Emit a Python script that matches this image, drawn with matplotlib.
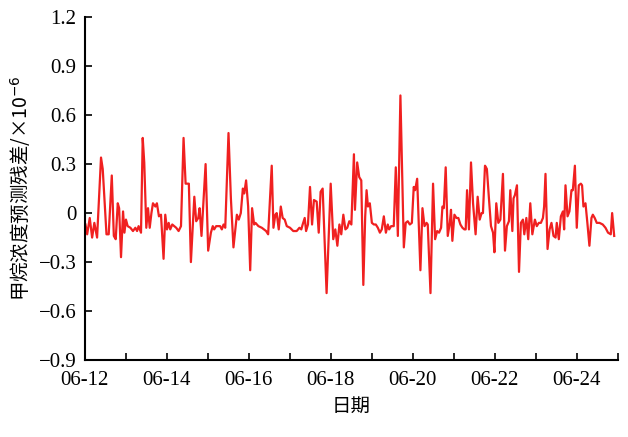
import numpy as np
import pandas as pd
import matplotlib
matplotlib.use("Agg")
import matplotlib.pyplot as plt
import matplotlib.dates as mdates

# 时间(小时, 自06-12 00:00起) 与 预测残差
hours = [0.4, 1.4, 2.9, 4.3, 5.6, 7.2, 9.5, 10.5, 12.7, 14.0, 15.8, 17.0, 18.1, 19.3, 20.1, 21.2,
         22.4, 23.2, 24.1, 25.1, 26.7, 28.2, 29.6, 30.6, 31.5, 32.9, 33.9, 34.8, 36.0, 37.0, 38.0,
         39.0, 39.9, 41.3, 42.2, 43.4, 44.6, 46.1, 47.1, 48.1, 49.1, 50.0, 51.2,
         53.5, 54.9, 56.3, 57.8, 59.0, 60.9, 62.1, 64.1, 65.2, 66.4, 67.2, 68.3, 70.7, 72.2, 73.8,
         74.9, 75.7, 76.9, 78.3, 79.2, 80.2, 81.2, 82.2, 84.1, 85.5, 87.0, 89.0, 90.1, 91.3, 92.5,
         93.3, 94.4, 95.6, 96.8, 97.9, 99.1, 99.9, 101.6, 103.6,
         106.1, 107.3, 109.4, 110.4, 111.5, 112.3, 113.5, 114.7, 115.8, 117.0, 118.2, 120.1, 122.0,
         124.0, 125.6, 126.7, 127.5, 128.7, 129.5, 130.6, 131.8, 133.0, 134.1, 135.7, 136.9, 138.0,
         139.2, 141.5, 143.9, 145.4, 146.6, 147.8, 149.0, 150.1, 151.3, 152.5, 153.6, 154.8, 156.0,
         157.5,
         158.1, 159.4, 160.6, 161.8, 163.0, 164.1, 164.9, 165.7, 166.8, 168.0, 169.2, 170.3, 171.5,
         172.7, 173.8, 175.0, 176.2, 177.3, 178.1, 179.3, 180.8, 182.0, 183.2, 184.7, 185.9, 186.7,
         187.8, 189.0, 190.2, 191.4, 192.5, 193.3, 194.5, 196.4, 197.6, 198.8, 200.0, 200.7, 202.3,
         203.8, 205.0, 206.2, 207.3, 208.5, 209.3, 210.1,
         211.2, 212.4, 213.6, 214.3, 215.1, 216.3, 217.5, 218.6, 219.8, 221.0, 222.1, 222.9, 223.7,
         224.8, 226.0, 227.2, 228.7, 229.9, 231.1, 232.2, 233.0, 234.2, 235.3, 236.5, 237.7, 238.9,
         239.7, 240.8, 242.0, 243.2, 244.7, 245.9, 247.0, 248.2, 249.0, 250.2, 250.9, 251.7, 252.9,
         254.1, 255.2, 256.4, 257.2, 258.4, 259.5, 260.7, 261.9,
         263.4, 264.5, 265.7, 266.9, 268.1, 268.8, 269.6, 270.8, 272.0, 273.1, 274.3, 275.5, 276.2,
         277.4, 278.6, 279.8, 280.5, 281.3, 282.5, 283.6, 284.8, 285.6, 286.8, 287.9, 289.1, 290.3,
         291.0, 291.8, 293.0, 294.1, 295.3, 296.5, 297.3, 298.4, 299.6, 301.2, 303.1, 304.7, 306.2,
         307.8, 308.6, 309.8]

resid = [-0.07, -0.13, -0.03, -0.15, -0.06, -0.15, 0.34, 0.27, -0.13, -0.13, 0.23, -0.14, -0.16, 0.06, 0.03, -0.27,
         0.01, -0.12, -0.04, -0.08, -0.09, -0.11, -0.09, -0.11, -0.08, -0.12, 0.46, 0.31, -0.09, 0.03, -0.09,
         0.00, 0.06, 0.04, 0.06, -0.02, -0.01, -0.28, -0.01, -0.10, -0.06, -0.10, -0.07,
         -0.09, -0.11, -0.08, 0.46, 0.18, 0.18, -0.30, 0.10, -0.05, -0.03, 0.03, -0.14, 0.30, -0.23, -0.12,
         -0.08, -0.10, -0.08, -0.08, -0.08, -0.10, -0.07, -0.09, 0.49, 0.09, -0.21, -0.01, -0.04, 0.00, 0.15,
         0.12, 0.20, 0.04, -0.35, 0.03, -0.07, -0.06, -0.08, -0.09,
         -0.11, -0.13, 0.29, -0.09, -0.01, 0.00, -0.10, 0.04, -0.03, -0.04, -0.08, -0.09, -0.11,
         -0.11, -0.09, -0.10, -0.07, -0.03, -0.11, -0.07, 0.16, -0.07, 0.08, 0.07, -0.12, 0.13,
         0.15, -0.49, 0.18, -0.16, -0.10, -0.20, -0.07, -0.13, -0.01, -0.10, -0.09, -0.05, -0.07,
         0.36,
         0.02, 0.31, 0.22, 0.20, -0.44, -0.02, 0.14, 0.04, 0.06, -0.06, -0.07, -0.07, -0.09,
         -0.12, -0.10, -0.02, -0.12, -0.07, -0.10, -0.08, -0.08, 0.28, -0.14, 0.72, 0.15, -0.21,
         -0.06, -0.05, -0.07, -0.06, 0.16, 0.14, 0.21, -0.35, 0.03, -0.08, -0.06, -0.07, -0.49,
         0.18, -0.16, -0.11, -0.12, -0.09, 0.04, 0.03,
         0.28, -0.14, -0.06, 0.02, -0.17, -0.01, -0.03, -0.03, -0.07, -0.09, -0.10, -0.10, 0.14,
         -0.10, 0.31, 0.06, -0.13, 0.10, -0.04, 0.00, 0.00, 0.29, 0.27, 0.09, -0.08, -0.12,
         -0.24, 0.06, -0.06, -0.04, 0.24, -0.23, -0.08, -0.05, 0.14, -0.11, 0.09, 0.11, 0.17,
         -0.36, -0.06, -0.04, -0.13, -0.03, -0.16, 0.06, -0.13,
         -0.04, -0.08, -0.06, -0.06, -0.03, 0.04, 0.24, -0.22, -0.10, -0.06, -0.14, -0.15, -0.06,
         -0.16, -0.02, 0.01, -0.10, 0.17, -0.02, 0.01, 0.14, 0.14, 0.29, -0.09, 0.17, 0.18,
         0.17, 0.04, 0.06, -0.06, -0.20, -0.03, -0.01, -0.03, -0.06, -0.06, -0.07, -0.09, -0.12,
         -0.13, 0.00, -0.14]

yticks = [-0.9, -0.6, -0.3, 0, 0.3, 0.6, 0.9, 1.2]
ytick_labels = ['\u22120.9', '\u22120.6', '\u22120.3', '0', '0.3', '0.6', '0.9', '1.2']

start = pd.Timestamp('2019-06-12')
times = start + pd.to_timedelta(hours, unit='h')

fig = plt.figure(figsize=(6.28, 4.37), dpi=100)
ax = fig.add_axes([0.135, 0.176, 0.849, 0.785])

ax.plot(times, resid, color='#f02020', lw=1.6)

ax.set_xlim(start, start + pd.Timedelta(hours=312))
ax.set_ylim(-0.9, 1.2)
ax.set_yticks(yticks)
ax.set_yticklabels(ytick_labels)

ax.xaxis.set_major_locator(mdates.DayLocator(bymonthday=[12, 14, 16, 18, 20, 22, 24]))
ax.xaxis.set_minor_locator(mdates.DayLocator())
ax.xaxis.set_major_formatter(mdates.DateFormatter('%m-%d'))

for s in ['top', 'right']:
    ax.spines[s].set_visible(False)
for s in ['left', 'bottom']:
    ax.spines[s].set_linewidth(1.5)

ax.tick_params(axis='both', which='both', direction='in', length=5, width=1.2)
ax.tick_params(axis='y', pad=6)
ax.tick_params(axis='x', which='major', pad=8)
for lab in ax.get_xticklabels() + ax.get_yticklabels():
    lab.set_fontfamily('Liberation Serif')
    lab.set_fontsize(15)

ax.set_ylabel('甲烷浓度预测残差/×10$^{-6}$', fontsize=14,
              family=['Noto Sans CJK SC', 'DejaVu Sans'], labelpad=4)
ax.set_xlabel('日期', fontsize=14, family=['Noto Sans CJK SC', 'DejaVu Sans'], labelpad=4)

fig.savefig('out.png', dpi=100)
